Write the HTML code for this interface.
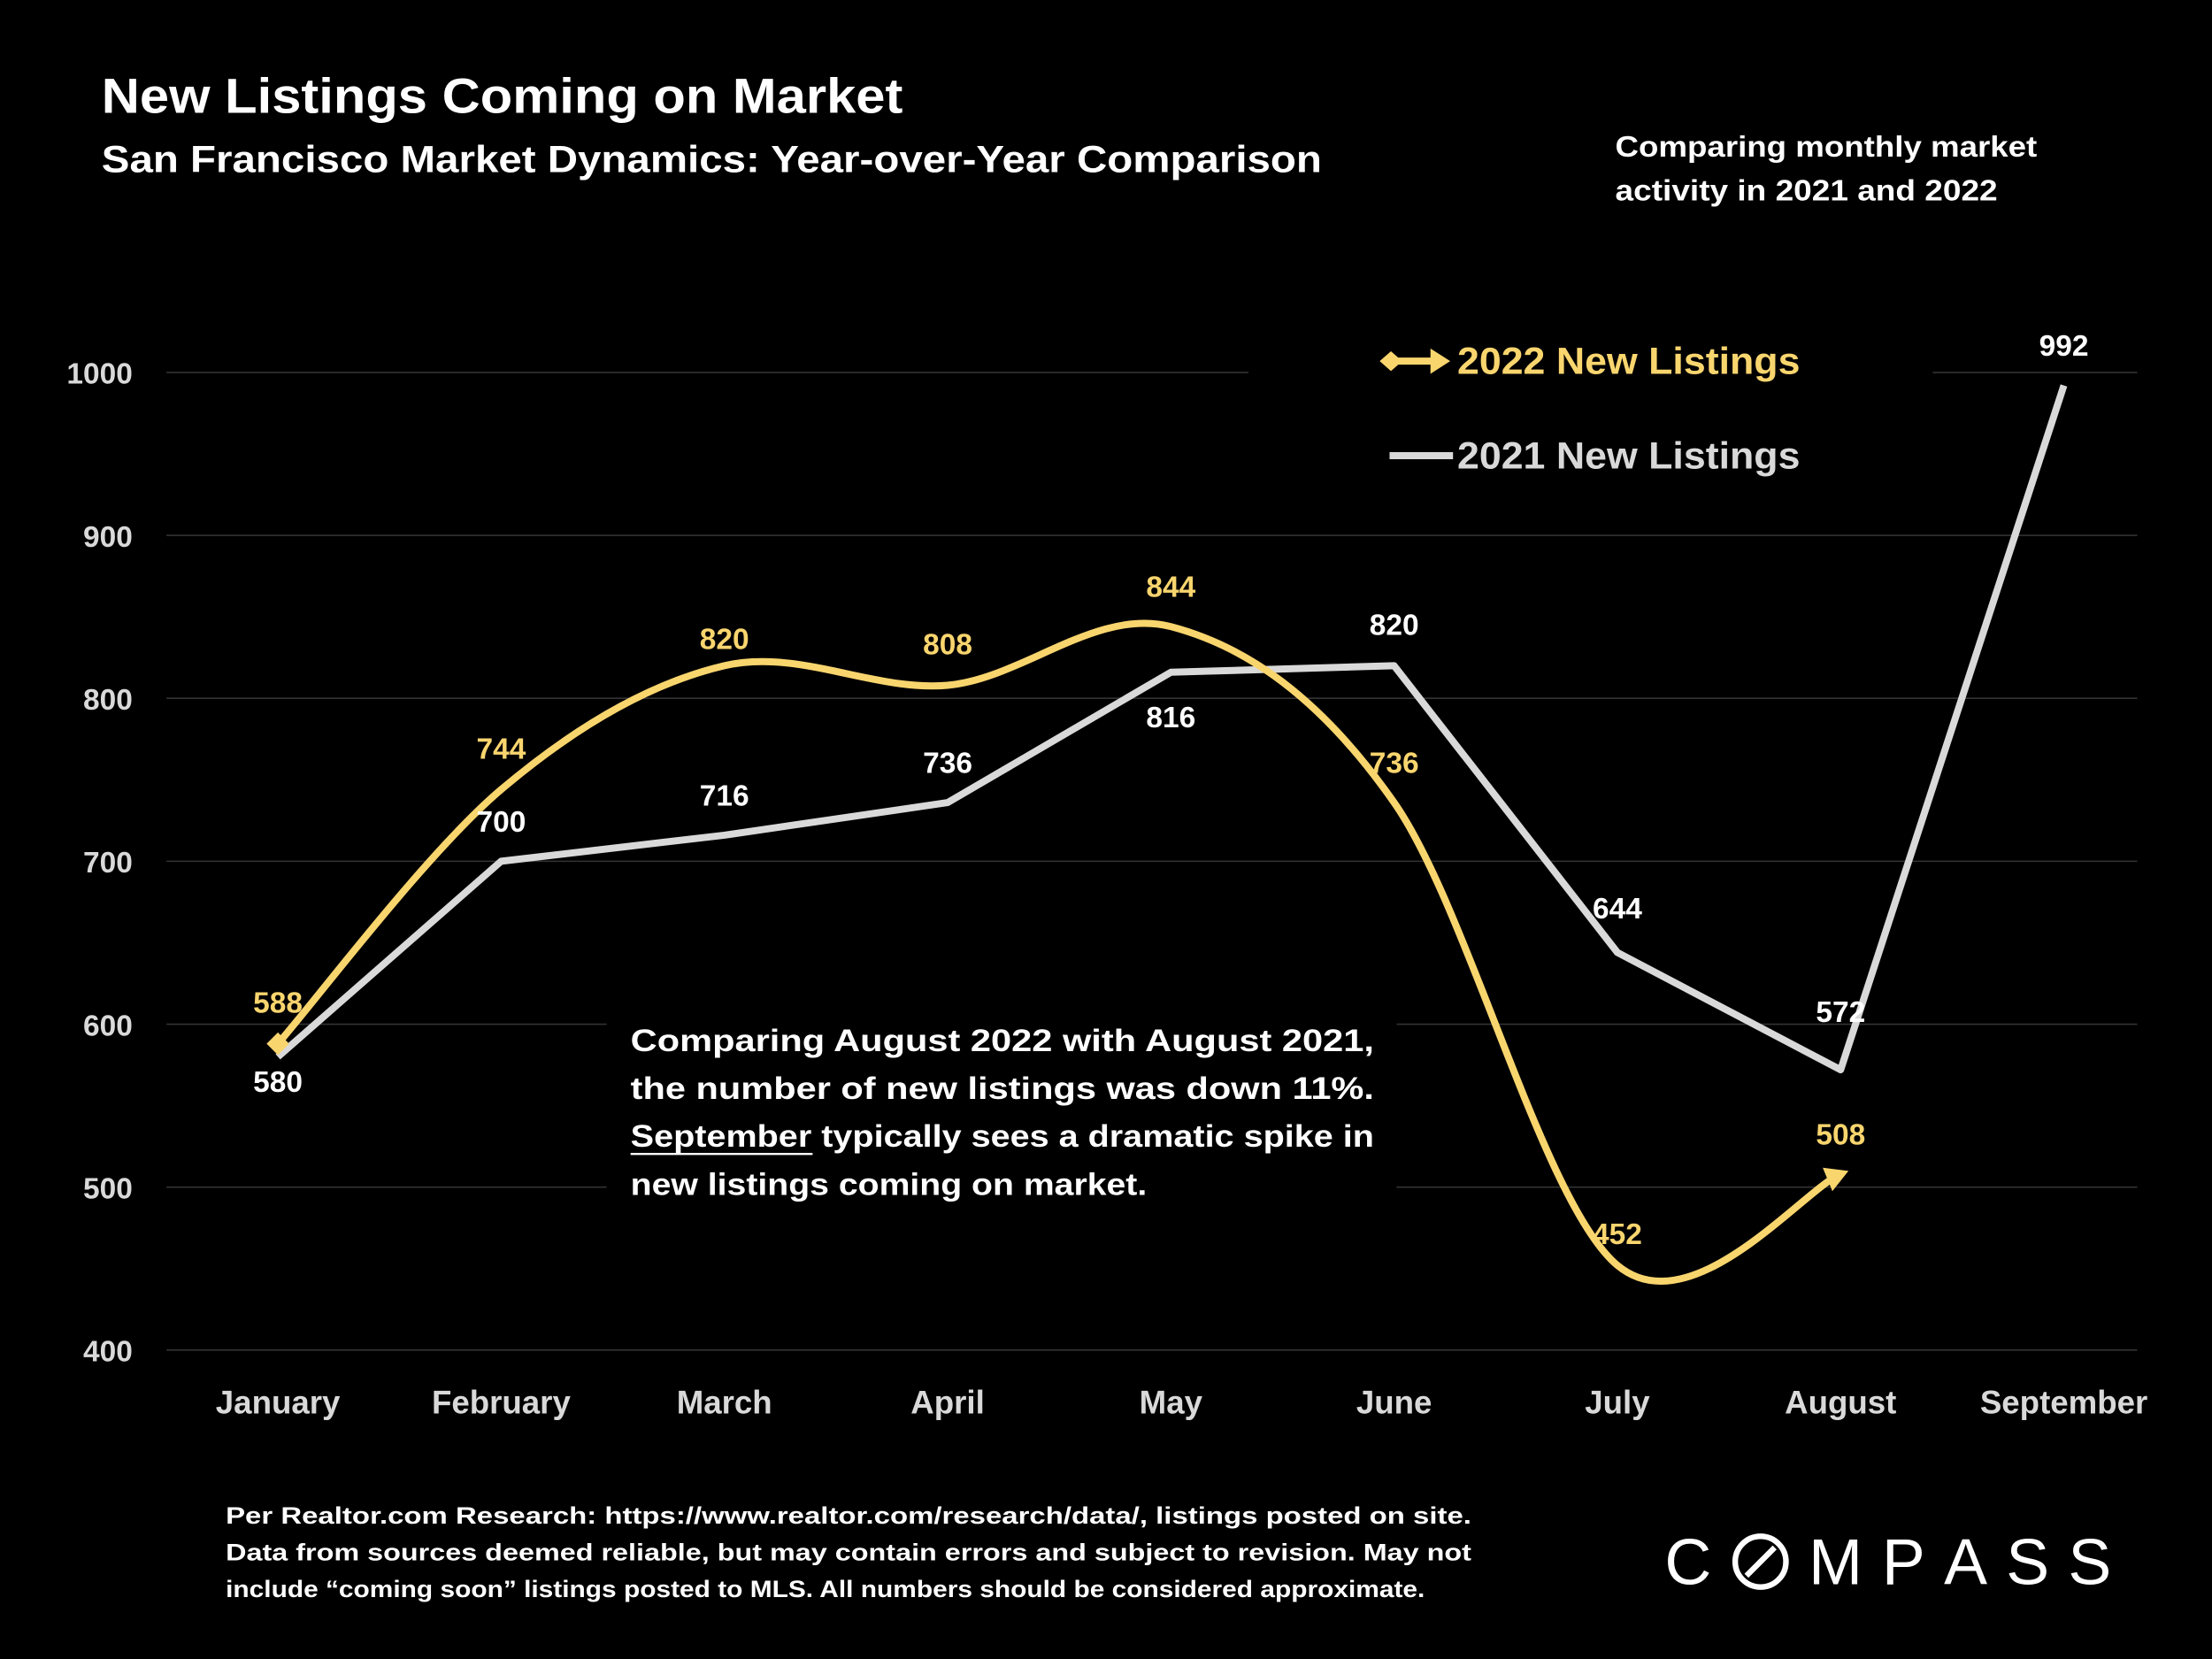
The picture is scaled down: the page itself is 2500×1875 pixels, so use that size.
<!DOCTYPE html>
<html><head><meta charset="utf-8"><style>
html,body{margin:0;padding:0;background:#000;}
svg{display:block;}
text{font-family:"Liberation Sans",sans-serif;font-weight:bold;}
</style></head><body>
<svg id="chart" width="2500" height="1875" viewBox="0 0 1568 1176" xmlns="http://www.w3.org/2000/svg">
<rect width="1568" height="1176" fill="#000"/>
<text x="72" y="80" font-size="35" fill="#fff" textLength="568" lengthAdjust="spacingAndGlyphs">New Listings Coming on Market</text>
<text x="72" y="122" font-size="27" fill="#fff" textLength="865" lengthAdjust="spacingAndGlyphs">San Francisco Market Dynamics: Year-over-Year Comparison</text>
<text x="1145" y="111" font-size="21" fill="#fff" textLength="299" lengthAdjust="spacingAndGlyphs">Comparing monthly market</text>
<text x="1145" y="142" font-size="21" fill="#fff" textLength="271" lengthAdjust="spacingAndGlyphs">activity in 2021 and 2022</text>
<g id="grid"></g>
<g id="yticks"></g>
<g id="xticks"></g>
<rect x="885" y="225" width="485" height="125" fill="#000"/>
<g>
<line x1="983" y1="256" x2="1020" y2="256" stroke="#f9d56e" stroke-width="5"/>
<polygon points="978,256 986,249 994,256 986,263" fill="#f9d56e"/>
<polygon points="1028,256 1014,247 1014,265" fill="#f9d56e"/>
<text x="1033" y="265" font-size="27" fill="#f9d56e" textLength="243" lengthAdjust="spacingAndGlyphs">2022 New Listings</text>
<line x1="985" y1="323" x2="1030" y2="323" stroke="#d9d9d9" stroke-width="5"/>
<text x="1033" y="332" font-size="27" fill="#d9d9d9" textLength="243" lengthAdjust="spacingAndGlyphs">2021 New Listings</text>
</g>
<rect x="430" y="715" width="560" height="142" fill="#000"/>
<g font-size="22" fill="#fff">
<text x="447" y="745" textLength="527" lengthAdjust="spacingAndGlyphs">Comparing August 2022 with August 2021,</text>
<text x="447" y="779" textLength="527" lengthAdjust="spacingAndGlyphs">the number of new listings was down 11%.</text>
<text x="447" y="813" textLength="527" lengthAdjust="spacingAndGlyphs">September typically sees a dramatic spike in</text>
<line x1="447" y1="818" x2="576" y2="818" stroke="#fff" stroke-width="1.5"/>
<text x="447" y="847" textLength="366" lengthAdjust="spacingAndGlyphs">new listings coming on market.</text>
</g>
<g id="series2021"></g>
<g id="series2022"></g>
<g id="labels"></g>
<g font-size="17" fill="#fff">
<text x="160" y="1080" textLength="883" lengthAdjust="spacingAndGlyphs">Per Realtor.com Research:   https://www.realtor.com/research/data/, listings posted on site.</text>
<text x="160" y="1106" textLength="883" lengthAdjust="spacingAndGlyphs">Data from sources deemed reliable, but may contain errors and subject to revision. May not</text>
<text x="160" y="1132" textLength="850" lengthAdjust="spacingAndGlyphs">include “coming soon” listings posted to MLS. All numbers should be considered approximate.</text>
</g>
<g font-size="46" fill="#fff">
<text x="1180" y="1123" style="font-weight:normal">C</text>
<circle cx="1248" cy="1107" r="18" fill="none" stroke="#fff" stroke-width="4"/>
<line x1="1238" y1="1117" x2="1258" y2="1097" stroke="#fff" stroke-width="4"/>
<text x="1282" y="1123" style="font-weight:normal">M</text>
<text x="1334" y="1123" style="font-weight:normal">P</text>
<text x="1378" y="1123" style="font-weight:normal">A</text>
<text x="1422" y="1123" style="font-weight:normal">S</text>
<text x="1466" y="1123" style="font-weight:normal">S</text>
</g>
</svg>
<script>
const months = ["January","February","March","April","May","June","July","August","September"];
const values2022 = [588,744,820,808,844,736,452,508];
const values2021 = [580,700,716,736,816,820,644,572,992];
const yTicks = [400,500,600,700,800,900,1000];
const labelDy2022 = [-30,-30,-20,-30,-29,-29,-23,-29];
const labelDy2021 = [17,-29,-29,-29,31,-30,-32,-42,-29];

const NS="http://www.w3.org/2000/svg";
const x0=197, dx=158.25, yBase=957, yPer=1.155;
const X=i=>x0+i*dx;
const Y=v=>yBase-(v-400)*yPer;
function mk(tag,attrs,parent,txt){const e=document.createElementNS(NS,tag);for(const k in attrs)e.setAttribute(k,attrs[k]);if(txt!==undefined)e.textContent=txt;document.getElementById(parent).appendChild(e);return e;}

yTicks.forEach(v=>{
  const g=mk("line",{x1:118,x2:1515,y1:Y(v),y2:Y(v),stroke:"#333","stroke-width":1},"grid");
  
  
  const t=mk("text",{x:94,y:Y(v)+8,"text-anchor":"end","font-size":21,fill:"#d9d9d9"},"yticks",v);
  
  
});
months.forEach((m,i)=>{
  const t=mk("text",{x:X(i),y:1002,"text-anchor":"middle","font-size":23,fill:"#d9d9d9"},"xticks",m);
  
  
});

const p21=values2021.map((v,i)=>[X(i),Y(v)]);
const l21=mk("polyline",{points:p21.map(p=>p.join(",")).join(" "),fill:"none",stroke:"#d9d9d9","stroke-width":5,"stroke-linejoin":"round"},"series2021");



const p22=values2022.map((v,i)=>[X(i),Y(v)]);
let d="M"+p22[0].join(",");
let lastC2=null;
for(let i=0;i<p22.length-1;i++){
  const a=p22[Math.max(i-1,0)],b=p22[i],c=p22[i+1],e=p22[Math.min(i+2,p22.length-1)];
  const t=1/6;
  const c1=[b[0]+(c[0]-a[0])*t,b[1]+(c[1]-a[1])*t];
  const c2=[c[0]-(e[0]-b[0])*t,c[1]-(e[1]-b[1])*t];
  d+=` C${c1.join(",")} ${c2.join(",")} ${c.join(",")}`;
  lastC2=c2;
}
const l22=mk("path",{d:d,fill:"none",stroke:"#f9d56e","stroke-width":5,"stroke-linecap":"round"},"series2022");


const end=p22[p22.length-1];
const ang=Math.atan2(end[1]-lastC2[1],end[0]-lastC2[0]);
const L=16,W=9;
const tip=[end[0]+Math.cos(ang)*6,end[1]+Math.sin(ang)*6];
const bx=tip[0]-Math.cos(ang)*L,by=tip[1]-Math.sin(ang)*L;
const arr=mk("polygon",{points:`${tip[0]},${tip[1]} ${bx-Math.sin(ang)*W},${by+Math.cos(ang)*W} ${bx+Math.sin(ang)*W},${by-Math.cos(ang)*W}`,fill:"#f9d56e"},"series2022");


const s=p22[0];
const dia=mk("polygon",{points:`${s[0]-8},${s[1]} ${s[0]},${s[1]-8} ${s[0]+8},${s[1]} ${s[0]},${s[1]+8}`,fill:"#f9d56e"},"series2022");



values2022.forEach((v,i)=>{
  const t=mk("text",{x:X(i),y:Y(v)+labelDy2022[i]+8,"text-anchor":"middle","font-size":21,fill:"#f9d56e"},"labels",v);
  
  
});
values2021.forEach((v,i)=>{
  const t=mk("text",{x:X(i),y:Y(v)+labelDy2021[i]+8,"text-anchor":"middle","font-size":21,fill:"#fff"},"labels",v);
  
  
});
</script>
</body></html>
